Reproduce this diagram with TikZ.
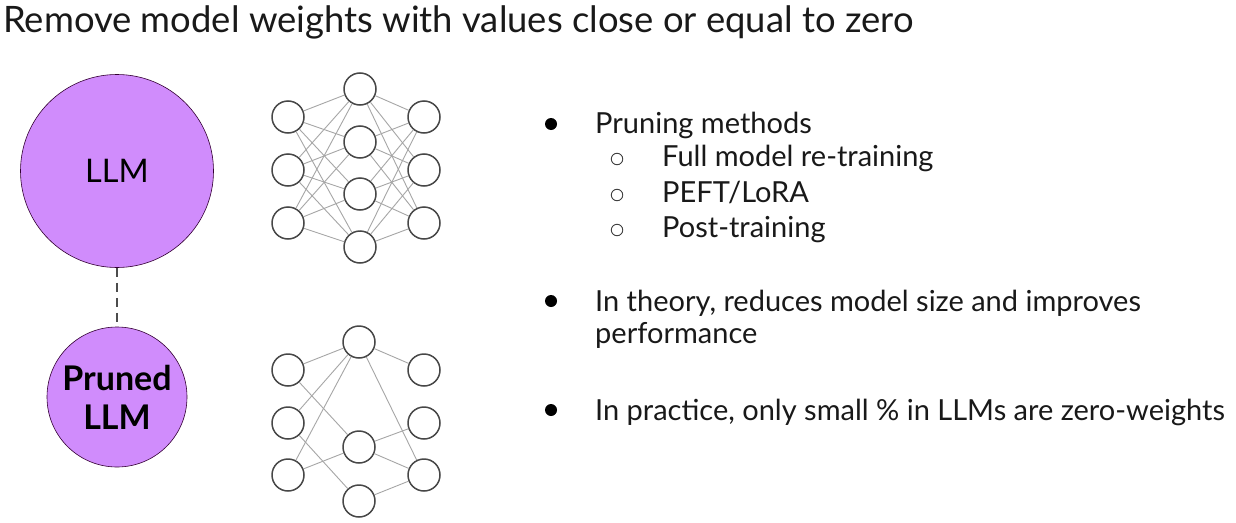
\documentclass[tikz,border=0pt]{standalone}
\usepackage{fontspec}
\setmainfont{Lato}
\begin{document}
\begin{tikzpicture}[x=1pt,y=-1pt,
  neuron/.style={circle,draw=black!72,line width=1.5pt,minimum size=32pt,inner sep=0pt},
  synapse/.style={draw=black!35,line width=0.9pt},
  modelbox/.style={circle,draw=black!60!violet,line width=0.6pt,fill={rgb,255:red,208;green,140;blue,252},inner sep=0pt},
  txt/.style={anchor=base west,inner sep=0pt,text=black!90,font=\fontsize{29}{34}\selectfont},
  bul/.style={circle,fill=black,inner sep=0pt,minimum size=12pt},
  subbul/.style={circle,draw=black!75,line width=0.9pt,inner sep=0pt,minimum size=11.5pt}]
\useasboundingbox[fill=white] (0,0) rectangle (1236,522);

% heading
\node[txt,font=\fontsize{36.4}{42}\selectfont] (title) at (3,32) {Remove model weights with values close or equal to zero};

% the two models
\node[modelbox,minimum size=193pt,font=\fontsize{32.5}{38}\selectfont] (llm) at (117,171) {LLM};
\node[modelbox,minimum size=140pt,align=center,font=\fontsize{34}{39}\selectfont\bfseries] (pruned) at (117,397)
  {Pruned\\LLM};
\draw[black!70,line width=2.2pt,dash pattern=on 9pt off 6pt] (llm.south) -- (pruned.north);

% dense network
\foreach \i/\y in {1/117,2/170,3/223} {
  \node[neuron] (a\i) at (288,\y) {};
  \node[neuron] (c\i) at (424,\y) {};
}
\foreach \i/\y in {1/89,2/142,3/194,4/247}
  \node[neuron] (b\i) at (360,\y) {};
\foreach \i in {1,2,3}
  \foreach \j in {1,2,3,4} {
    \draw[synapse] (a\i) -- (b\j);
    \draw[synapse] (b\j) -- (c\i);
  }

% pruned network
\foreach \i/\y in {1/370,2/423,3/475} {
  \node[neuron] (p\i) at (288,\y) {};
  \node[neuron] (r\i) at (424,\y) {};
}
\node[neuron] (q1) at (359,342) {};
\node[neuron] (q2) at (359,447) {};
\node[neuron] (q3) at (359,501) {};
\draw[synapse] (p1) -- (q1);
\draw[synapse] (p2) -- (q1);
\draw[synapse] (p3) -- (q1);
\draw[synapse] (p1) -- (q2);
\draw[synapse] (p3) -- (q2);
\draw[synapse] (p2) -- (q3);
\draw[synapse] (q1) -- (r1);
\draw[synapse] (q1) -- (r3);
\draw[synapse] (q2) -- (r2);
\draw[synapse] (q2) -- (r3);
\draw[synapse] (q3) -- (r3);

% bullet list
\node[bul] (b1dot) at (551,124) {};
\node[txt] (item1) at (595,133) {Pruning methods};
\node[subbul] (s1dot) at (617,159) {};
\node[txt] (sub1) at (662,166) {Full model re-training};
\node[subbul] (s2dot) at (617,195) {};
\node[txt] (sub2) at (662,202) {PEFT/LoRA};
\node[subbul] (s3dot) at (617,230) {};
\node[txt] (sub3) at (662,237) {Post-training};

\node[bul] (b2dot) at (551,301) {};
\node[txt] (item2) at (595,311) {In theory, reduces model size and improves};
\node[txt] (item2b) at (595,343) {performance};

\node[bul] (b3dot) at (551,410) {};
\node[txt] (item3) at (595,420) {In practice, only small \% in LLMs are zero-weights};
\end{tikzpicture}
\end{document}
